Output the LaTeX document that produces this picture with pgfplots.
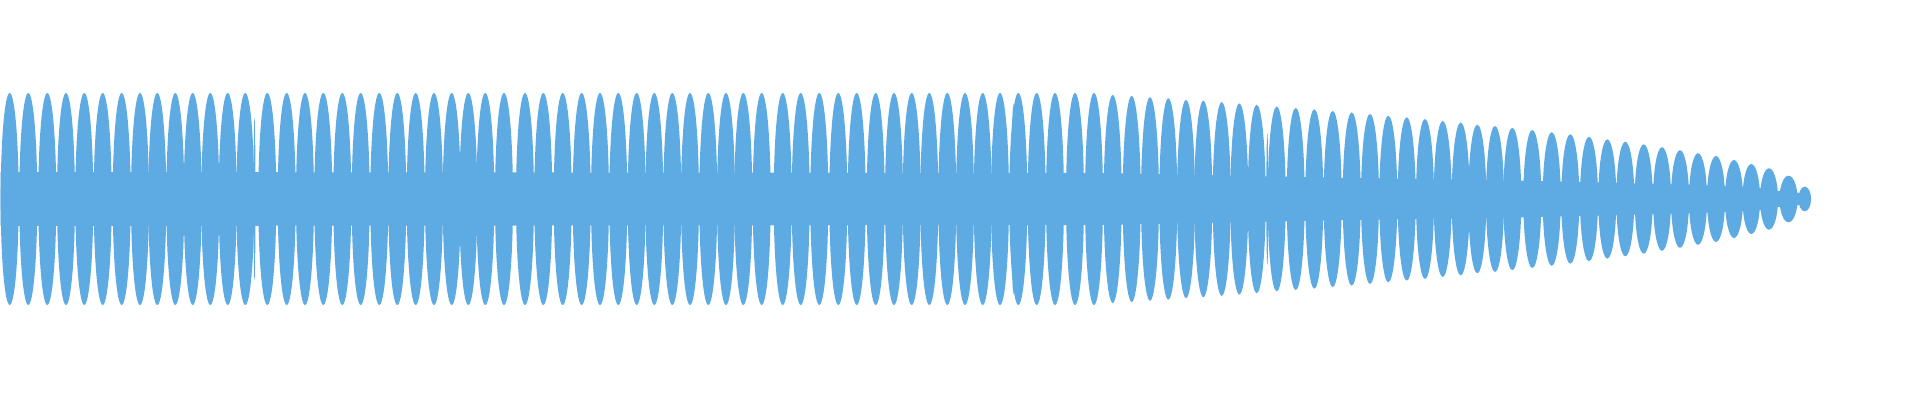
\documentclass[border=0pt]{standalone}
\usepackage{pgfplots}
\usepackage{pgfplotstable}
\pgfplotsset{compat=1.18}
\definecolor{wave}{RGB}{93,171,226}
\pgfdeclareplotmark{lobe}{%
  \pgfpathellipse{\pgfpointorigin}{\pgfpoint{\lobehw pt}{0pt}}{\pgfpoint{0pt}{\pgfplotmarksize}}%
  \pgfusepathqfill}
\pgfplotstableread{
x a w
9.7 106 18
28.3 106 18
47.3 106 18
66 106 18
84.3 106 18
102.7 106 18
121.7 106 18
140 106 18
157.3 106 18
175.3 106 18
192.7 106 18
210.3 106 18
227.7 106 18
245.3 106 18
254.5 81 2
267.3 106 18
286.7 106 18
305 106 18
323.3 106 18
342.3 106 18
360.7 106 18
379.3 106 18
397.3 106 18
415.7 106 18
434 106 18
451.7 106 18
468.3 106 18
485.3 106 18
504 106 18
525 106 18
543.3 106 18
562.7 106 18
581.7 106 18
600 106 18
618.3 106 18
636.7 106 18
654.3 106 18
672.3 106 18
690 106 18
708.3 106 18
726 106 18
743.3 106 18
761.7 106 18
782.7 106 18
800.7 106 18
819.3 106 18
838.3 106 18
856.7 106 18
875.7 106 18
894 106 18
911.7 106 18
929.3 106 18
947.3 106 18
965 106 18
982.7 106 18
1000 106 18
1013.3 95.7 3
1018.3 106 18
1036.7 106 18
1055 106 18
1075 106 18
1094 106 18
1112.7 104 18
1131.7 103 18
1150 101.7 18
1168.3 100.7 18
1186 99 18
1203.3 98.2 18
1221.7 96.8 18
1239.3 95.5 18
1256.7 94.3 18
1267.3 66 2
1276.7 92.5 18
1295.7 91.2 18
1314.3 89.7 18
1332.7 88.2 18
1351.7 86.7 18
1370 85 18
1388.3 83.3 18
1406.7 81.7 18
1425 80 18
1442.7 78 18
1460.7 76.5 18
1477.3 74.3 18
1495 73 18
1512.3 71.2 18
1532.3 69 18
1551.7 66.8 18
1570.3 64.7 18
1589 62.2 18
1607.3 59.7 18
1625.3 57.3 18
1643.7 54.7 18
1662 51.8 18
1680 48.8 18
1698 45.8 18
1716 43 18
1734 39 18
1751.3 35 17.5
1769 30.7 18
1788.5 23.3 18
1804.7 12.3 12.7
}\lobes
\begin{document}
\begin{tikzpicture}
\begin{axis}[
  scale only axis, width=960pt, height=200pt,
  xmin=0, xmax=1920, ymin=-201, ymax=199,
  hide axis, clip=false,
]
\addplot[draw=none, forget plot] coordinates {(0,-201) (1920,199)};
% central band (minimum envelope)
\addplot[fill=wave, draw=none] coordinates {
(0.5,27) (1100,26) (1200,24) (1350,21) (1500,19) (1600,16.5) (1700,14) (1760,11) (1779,8) (1797,6.5) (1806,4)
(1808,0)
(1806,-4) (1797,-6.5) (1779,-8) (1760,-11) (1700,-14) (1600,-16.5) (1500,-19) (1350,-21) (1200,-24) (1100,-26) (0.5,-27)
};
% lobes of the waveform envelope
\addplot[scatter, only marks, mark=lobe,
  point meta=explicit,
  scatter/use mapped color={draw=none, fill=wave},
  visualization depends on={0.5*\thisrow{a} \as \lobeamp},
  visualization depends on={0.25*\thisrow{w} \as \lobehw},
  scatter/@pre marker code/.append style={/tikz/mark size=\lobeamp},
] table[x=x, y expr=0, meta=a] {\lobes};
\end{axis}
\end{tikzpicture}
\end{document}
